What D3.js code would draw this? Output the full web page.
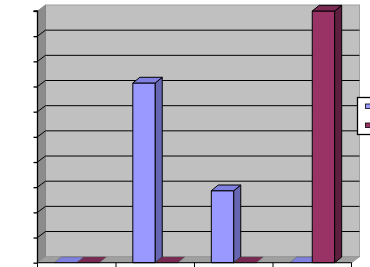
<!DOCTYPE html>
<html>
<head>
<meta charset="utf-8">
<script src="https://cdn.jsdelivr.net/npm/d3@7"></script>
<style>
  html, body { margin: 0; padding: 0; background: #ffffff; }
  svg { display: block; }
</style>
</head>
<body>
<div id="chart"></div>
<script>
// ---- data ----
const categories = ["A", "B", "C", "D"];
const seriesNames = ["Series 1", "Series 2"];
const series1 = [0, 0.714, 0.286, 0];
const series2 = [0, 0, 0, 1.0];
const yTicks = [0, 0.1, 0.2, 0.3, 0.4, 0.5, 0.6, 0.7, 0.8, 0.9, 1.0];

// ---- styles ----
const W = 370, H = 267;
const colors = [
  { front: "#9999FF", side: "#6666B3", top: "#8080E0" },
  { front: "#993366", side: "#5E1F3F", top: "#7A2952" }
];
const wallDX = 8, wallDY = -6;
const barDX = 7, barDY = -5.7;

const svg = d3.select("#chart").append("svg")
  .attr("width", W).attr("height", H);

const x0 = 37.5, x1 = 351.5, yBase = 262.7, yTop = 11;

const x = d3.scaleBand().domain(categories).range([x0, x1]).paddingInner(0).paddingOuter(0);
const xs = d3.scaleBand().domain(seriesNames).range([0, x.bandwidth()]).paddingOuter(0.75 / 1).paddingInner(0);
// Excel gap width 150%: 0.75 bar-width each side
const bw = x.bandwidth() / 3.5;
const y = d3.scaleLinear().domain([0, 1]).range([yBase, yTop]);

const pts = a => a.map(p => p.join(",")).join(" ");

// back wall
svg.append("rect")
  .attr("x", x0 + wallDX).attr("y", y(1) + wallDY)
  .attr("width", x1 - x0).attr("height", y(0) - y(1))
  .attr("fill", "#C0C0C0").attr("stroke", "#A0A0A0").attr("stroke-width", 1);

// left wall
svg.append("polygon")
  .attr("points", pts([[x0, y(1)], [x0 + wallDX, y(1) + wallDY], [x0 + wallDX, y(0) + wallDY], [x0, y(0)]]))
  .attr("fill", "#8C8C8C").attr("stroke", "#808080").attr("stroke-width", 0.8);

// floor
svg.append("polygon")
  .attr("points", pts([[x0, y(0)], [x0 + wallDX, y(0) + wallDY], [x1 + wallDX, y(0) + wallDY], [x1, y(0)]]))
  .attr("fill", "#A0A0A0").attr("stroke", "#909090").attr("stroke-width", 0.8);

// gridlines
const gridTicks = yTicks.filter(t => t > 0 && t < 1);
const g = svg.append("g").attr("stroke", "#000").attr("stroke-width", 1).attr("fill", "none");
gridTicks.forEach(t => {
  g.append("line")
    .attr("x1", x0 + wallDX).attr("x2", x1 + wallDX)
    .attr("y1", y(t) + wallDY).attr("y2", y(t) + wallDY);
  g.append("line")
    .attr("x1", x0).attr("x2", x0 + wallDX)
    .attr("y1", y(t)).attr("y2", y(t) + wallDY);
});

// bars
const allSeries = [series1, series2];
categories.forEach((c, ci) => {
  allSeries.forEach((vals, si) => {
    const v = vals[ci];
    const bx0 = x(c) + 0.75 * bw + si * bw;
    const bx1 = bx0 + bw;
    const yb = y(0), yt = y(v);
    const col = colors[si];
    const bar = svg.append("g").attr("stroke", "#000").attr("stroke-width", 1).attr("stroke-linejoin", "round");
    if (v > 0) {
      // front
      bar.append("rect").attr("x", bx0).attr("y", yt).attr("width", bw).attr("height", yb - yt)
        .attr("fill", col.front);
      // side
      bar.append("polygon")
        .attr("points", pts([[bx1, yt], [bx1 + barDX, yt + barDY], [bx1 + barDX, yb + barDY], [bx1, yb]]))
        .attr("fill", col.side);
      // top
      bar.append("polygon")
        .attr("points", pts([[bx0, yt], [bx0 + barDX, yt + barDY], [bx1 + barDX, yt + barDY], [bx1, yt]]))
        .attr("fill", col.top);
    } else {
      bar.append("polygon")
        .attr("points", pts([[bx0, yb], [bx0 + barDX, yb + barDY], [bx1 + barDX, yb + barDY], [bx1, yb]]))
        .attr("fill", col.top).attr("stroke-width", 0.5).attr("stroke", "#555");
    }
  });
});

// value axis (front)
const yAxis = d3.axisLeft(y).tickValues(yTicks).tickSize(4).tickFormat(() => "");
const ya = svg.append("g").attr("transform", `translate(${x0},0)`).call(yAxis);
ya.selectAll("path, line").attr("stroke", "#000").attr("stroke-width", 1.3);
ya.select(".domain").attr("d", `M-4,${y(1)}H0V${y(0)}`);

// category axis (front)
const xAxis = d3.axisBottom(x).tickSize(0).tickFormat(() => "");
const xa = svg.append("g").attr("transform", `translate(0,${yBase})`).call(xAxis);
xa.select(".domain").attr("stroke", "#000").attr("stroke-width", 1).attr("d", `M${x0},0H${x1}`);
const boundaries = categories.map(c => x(c)).concat([x1]);
xa.selectAll(".bnd").data(boundaries).enter().append("line")
  .attr("x1", d => d).attr("x2", d => d).attr("y1", 0).attr("y2", 5)
  .attr("stroke", "#000").attr("stroke-width", 1);

// legend (clipped by the right edge as in reference)
const lg = svg.append("g");
lg.append("rect").attr("x", 357.5).attr("y", 97.5).attr("width", 30).attr("height", 37)
  .attr("fill", "#fff").attr("stroke", "#000").attr("stroke-width", 1.3);
seriesNames.forEach((s, i) => {
  lg.append("rect").attr("x", 365.5).attr("y", 104 + i * 19).attr("width", 6).attr("height", 4.5)
    .attr("fill", colors[i].front).attr("stroke", "#000").attr("stroke-width", 0.8);
});
</script>
</body>
</html>
